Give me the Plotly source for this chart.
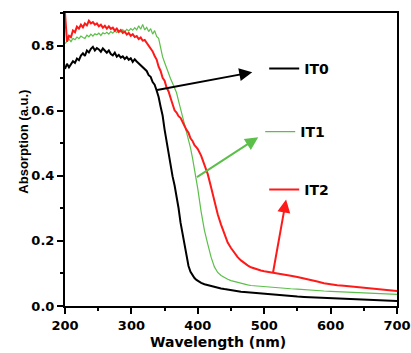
import plotly.graph_objects as go

# Wavelength grid (nm)
wavelength = [200, 203, 206, 209, 212, 215, 218, 221, 224, 227, 230, 233, 236, 239, 242, 245, 248, 251,
              254, 257, 260, 263, 266, 269, 272, 275, 278, 281, 284, 287, 290, 293, 296, 299, 302, 305,
              308, 311, 314, 317, 320, 323, 326, 329, 332, 335, 338, 341, 344, 347, 350, 353, 356, 359,
              362, 365, 368, 371, 374, 377, 380, 383, 386, 389, 392, 395, 398,
              400, 405, 410, 415, 420, 425, 430, 435, 440, 445, 450, 455, 460, 465, 470, 475, 480, 485,
              490, 495, 500,
              510, 520, 530, 540, 550, 560, 570, 580, 590, 600, 610, 620, 630, 640, 650, 660, 670, 680,
              690, 700]

it0 = [.728, .744, .733, .741, .752, .747, .760, .755, .769, .776, .768, .785, .779, .790, .796, .785, .792, .788,
       .781, .791, .783, .778, .785, .774, .770, .778, .766, .771, .763, .767, .759, .765, .756, .761, .750, .758,
       .751, .745, .741, .735, .728, .722, .709, .704, .688, .680, .662, .642, .612, .585, .542, .503, .462, .432,
       .398, .371, .338, .301, .256, .224, .190, .153, .123, .105, .094, .086, .080,
       .077, .071, .067, .064, .061, .058, .056, .054, .052, .050, .048, .047, .045, .044, .043, .042, .041, .040,
       .039, .038, .037,
       .036, .034, .031, .030, .029, .028, .027, .026, .026, .025, .024, .023, .022, .021, .020, .019, .018, .017,
       .016, .015]

it1 = [.806, .815, .820, .812, .822, .818, .826, .821, .829, .825, .822, .832, .827, .835, .829, .836, .833, .838,
       .831, .839, .836, .841, .835, .843, .838, .845, .840, .846, .842, .849, .841, .850, .845, .852, .847, .855,
       .848, .861, .850, .865, .848, .856, .843, .852, .835, .846, .828, .822, .790, .765, .748, .730, .712, .698,
       .684, .670, .655, .630, .606, .585, .562, .540, .514, .486, .455, .420, .396,
       .360, .290, .232, .190, .150, .120, .103, .094, .087, .082, .078, .075, .072, .069, .067, .065, .063, .062,
       .061, .060, .059,
       .057, .055, .054, .053, .052, .050, .049, .048, .046, .045, .044, .043, .042, .041, .040, .039, .038, .037,
       .036, .036]

it2 = [.900, .812, .830, .826, .846, .841, .858, .852, .864, .856, .868, .862, .876, .868, .872, .864, .868, .859,
       .864, .855, .861, .852, .859, .851, .855, .846, .852, .842, .848, .839, .843, .834, .839, .830, .835, .826,
       .829, .820, .825, .815, .817, .808, .803, .792, .782, .768, .757, .735, .722, .701, .692, .671, .659, .639,
       .622, .601, .594, .583, .578, .565, .557, .541, .532, .515, .507, .494, .487,
       .482, .462, .435, .405, .365, .320, .282, .250, .220, .195, .178, .162, .150, .140, .132, .125, .119, .115,
       .112, .109, .107,
       .104, .100, .097, .093, .089, .085, .080, .075, .070, .066, .064, .062, .060, .058, .056, .054, .052, .050,
       .048, .046]

series_names = ["IT0", "IT1", "IT2"]
series_colors = ["#000000", "#5cbf4a", "#ff1a1a"]
series_widths = [2, 1.2, 2]
series_values = [it0, it1, it2]

x_ticks = [200, 300, 400, 500, 600, 700]
y_ticks = [0.0, 0.2, 0.4, 0.6, 0.8]

# arrows: (tail wavelength, tail value, head wavelength, head value)
arrows = [(338, 0.663, 482, 0.718), (398, 0.395, 491, 0.518), (513, 0.099, 533, 0.327)]

legend_pos = [("legend", 0.809), ("legend2", 0.594), ("legend3", 0.396)]

fig = go.Figure()
for name, col, w, vals, (lg, _) in zip(series_names, series_colors, series_widths, series_values, legend_pos):
    fig.add_trace(go.Scatter(x=wavelength, y=vals, mode="lines", name=name, showlegend=True,
                             line=dict(color=col, width=w), legend=lg))

legend_font = dict(family="DejaVu Sans", size=14, color="#000000", weight="bold")
lx = [0.600, 0.588, 0.600]
layout_legends = {}
for (lg, ly), x in zip(legend_pos, lx):
    layout_legends[lg] = dict(x=x, y=ly, xanchor="left", yanchor="middle", font=legend_font,
                              bgcolor="rgba(0,0,0,0)", borderwidth=0, itemwidth=30)

for (tx, ty, hx, hy), col in zip(arrows, series_colors):
    fig.add_annotation(x=hx, y=hy, ax=tx, ay=ty, xref="x", yref="y", axref="x", ayref="y",
                       showarrow=True, arrowhead=2, arrowsize=1.3, arrowwidth=2, arrowcolor=col,
                       standoff=0, startstandoff=0, font=dict(size=1), borderpad=0)

tick_font = dict(family="DejaVu Sans", size=13, color="#000000", weight="bold")
axis_common = dict(showline=True, linecolor="#000000", linewidth=2, mirror=True, ticks="outside",
                   ticklen=6, tickwidth=2, tickcolor="#000000", showgrid=False, zeroline=False,
                   tickfont=tick_font, automargin=False)

fig.update_layout(
    width=411, height=353,
    showlegend=True,
    margin=dict(l=65, r=14, t=13, b=47, autoexpand=False),
    paper_bgcolor="#ffffff", plot_bgcolor="#ffffff",
    xaxis=dict(range=[200, 700], tickvals=x_ticks,
               minor=dict(dtick=50, ticks="outside", ticklen=3, tickwidth=2, tickcolor="#000000"),
               **axis_common),
    yaxis=dict(range=[0, 0.9], tickvals=y_ticks, tickformat=".1f",
               minor=dict(dtick=0.1, ticks="outside", ticklen=3, tickwidth=2, tickcolor="#000000"),
               **axis_common),
    **layout_legends,
)

fig.add_annotation(text="Wavelength (nm)", xref="paper", yref="paper", x=0.462, y=-0.123,
                   xanchor="center", yanchor="middle", showarrow=False,
                   font=dict(family="DejaVu Sans", size=14, color="#000000", weight="bold"))
fig.add_annotation(text="Absorption (a.u.)", xref="paper", yref="paper", x=-0.1235, y=0.561,
                   xanchor="center", yanchor="middle", showarrow=False, textangle=-90,
                   font=dict(family="Liberation Sans", size=13, color="#000000", weight="bold"))

fig.write_html("out.html", config={"displayModeBar": False},
               post_script="document.body.style.margin='0';")
